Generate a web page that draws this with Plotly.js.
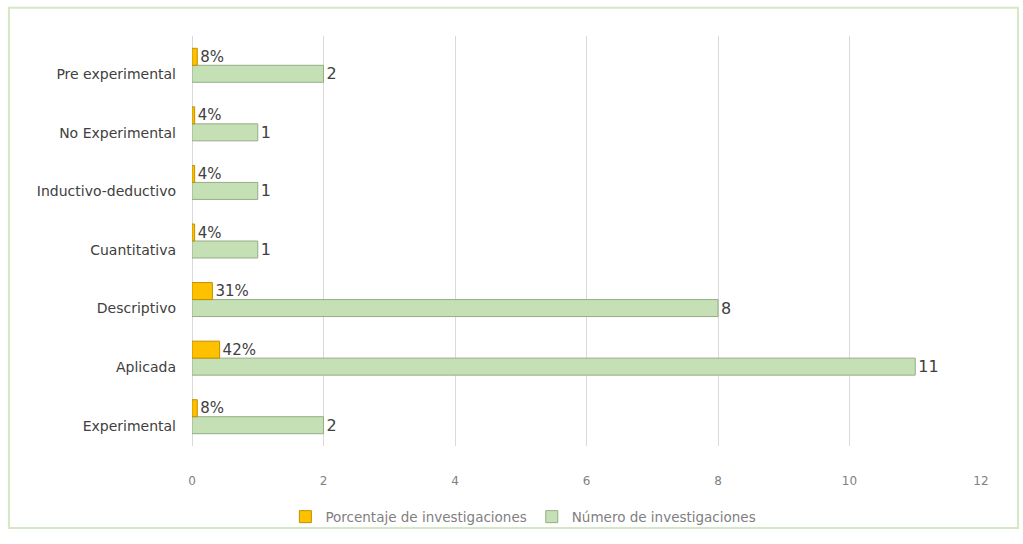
<!DOCTYPE html>
<html><head><meta charset="utf-8">
<script src="https://cdn.plot.ly/plotly-3.0.1.min.js"></script>
<style>html,body{margin:0;padding:0;background:#fff}#chart{width:1023px;height:544px}</style>
</head><body><div id="chart"></div>
<script>
var categories = ["Experimental","Aplicada","Descriptivo","Cuantitativa","Inductivo-deductivo","No Experimental","Pre experimental"];
var numeroInvestigaciones = [2,11,8,1,1,1,2];
var porcentajeInvestigaciones = [0.08,0.42,0.31,0.04,0.04,0.04,0.08];
var xTicks = [0,2,4,6,8,10,12];

var pctLabels = porcentajeInvestigaciones.map(function(v){return Math.round(v*100)+"%";});
var numLabels = numeroInvestigaciones.map(String);

var traces = [
  {type:"bar", orientation:"h", name:"Número de investigaciones", y:categories, x:numeroInvestigaciones,
   text:numLabels, textposition:"outside", cliponaxis:false, constraintext:"none",
   textfont:{family:"DejaVu Sans", size:16, color:"#404040"},
   marker:{color:"#c5e0b4", line:{color:"#94ad85", width:1}}, legendrank:2},
  {type:"bar", orientation:"h", name:"Porcentaje de investigaciones", y:categories, x:porcentajeInvestigaciones,
   text:pctLabels, textposition:"outside", cliponaxis:false, constraintext:"none",
   textfont:{family:"DejaVu Sans", size:15, color:"#404040"},
   marker:{color:"#ffc000", line:{color:"#bf9000", width:1}}, legendrank:1}
];

var layout = {
  width:1023, height:544,
  margin:{l:192, r:42, t:36, b:88},
  paper_bgcolor:"#ffffff", plot_bgcolor:"#ffffff",
  barmode:"group", bargap:0.42, bargroupgap:0,
  font:{family:"DejaVu Sans", color:"#595959"},
  xaxis:{range:[0,12], tickvals:xTicks, showgrid:true, gridcolor:"#d9d9d9", gridwidth:1,
         zeroline:true, zerolinecolor:"#d9d9d9", showline:false, ticks:"",
         tickfont:{size:12, color:"#7f7f7f"}, ticklabelstandoff:26, fixedrange:true},
  yaxis:{type:"category", categoryorder:"array", categoryarray:categories, showgrid:false, zeroline:false,
         showline:false, ticks:"", tickfont:{size:14, color:"#404040"}, ticklabelstandoff:15,
         ticklabelshift:9, automargin:false},
  showlegend:true,
  legend:{orientation:"h", x:0.42, xanchor:"center", y:-0.135, yanchor:"top", bgcolor:"rgba(0,0,0,0)",
          font:{size:13.5, color:"#7f7f7f"}, itemwidth:30},
  shapes:[{type:"rect", xref:"paper", yref:"paper", x0:-0.232, x1:1.047, y0:-0.2, y1:1.069,
           line:{color:"#d5e8c6", width:2}, fillcolor:"rgba(0,0,0,0)", layer:"below"}]
};
Plotly.newPlot("chart", traces, layout, {displayModeBar:false, staticPlot:true});
</script></body></html>
